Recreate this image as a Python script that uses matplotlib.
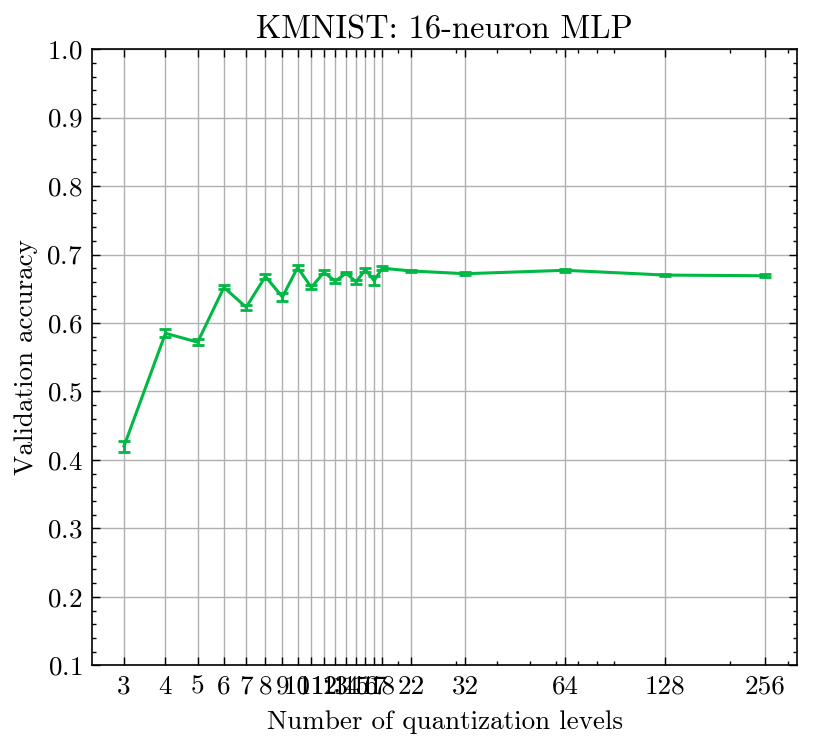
import matplotlib
matplotlib.use("Agg")
import matplotlib.pyplot as plt
from matplotlib.ticker import FixedLocator, FixedFormatter, MultipleLocator

plt.rcParams['font.family'] = ['cmr10', 'DejaVu Serif']
plt.rcParams['mathtext.fontset'] = 'cm'
plt.rcParams['axes.formatter.use_mathtext'] = True
plt.rcParams['axes.unicode_minus'] = False
plt.rcParams['font.size'] = 19.5

# quantization levels and measured accuracy (mean, std)
levels = [3, 4, 5, 6, 7, 8, 9, 10, 11, 12, 13, 14, 15, 16, 17, 18, 22, 32, 64, 128, 256]
acc = [0.420, 0.585, 0.572, 0.652, 0.623, 0.668, 0.638, 0.681, 0.652, 0.674, 0.661,
       0.673, 0.660, 0.678, 0.662, 0.680, 0.676, 0.672, 0.677, 0.670, 0.669]
err = [0.008, 0.006, 0.004, 0.003, 0.004, 0.003, 0.006, 0.003, 0.003, 0.003, 0.003,
       0.002, 0.003, 0.003, 0.007, 0.003, 0.002, 0.002, 0.002, 0.002, 0.002]

fig = plt.figure(figsize=(8.21, 7.45), dpi=100)
ax = fig.add_axes([0.112, 0.107, 0.859, 0.827])

ax.errorbar(levels, acc, yerr=err, color="#00B945", lw=2.2, capsize=4,
            capthick=2, elinewidth=2)

ax.set_xscale("log")
ax.xaxis.set_major_locator(FixedLocator(levels))
ax.xaxis.set_major_formatter(FixedFormatter([str(l) for l in levels]))
ax.set_ylim(0.1, 1.0)
ax.yaxis.set_major_locator(MultipleLocator(0.1))
ax.yaxis.set_minor_locator(MultipleLocator(0.02))

ax.tick_params(which="both", direction="in", top=True, right=True, width=1)
ax.tick_params(which="major", length=6, pad=7)
ax.tick_params(which="minor", length=3)
for s in ax.spines.values():
    s.set_linewidth(1.2)
ax.grid(True, which="major", color="#b0b0b0", lw=1)

ax.set_title("KMNIST: 16-neuron MLP", pad=8)
ax.set_xlabel("Number of quantization levels", labelpad=8)
ax.set_ylabel("Validation accuracy", labelpad=6)

fig.savefig("out.png", dpi=100)
